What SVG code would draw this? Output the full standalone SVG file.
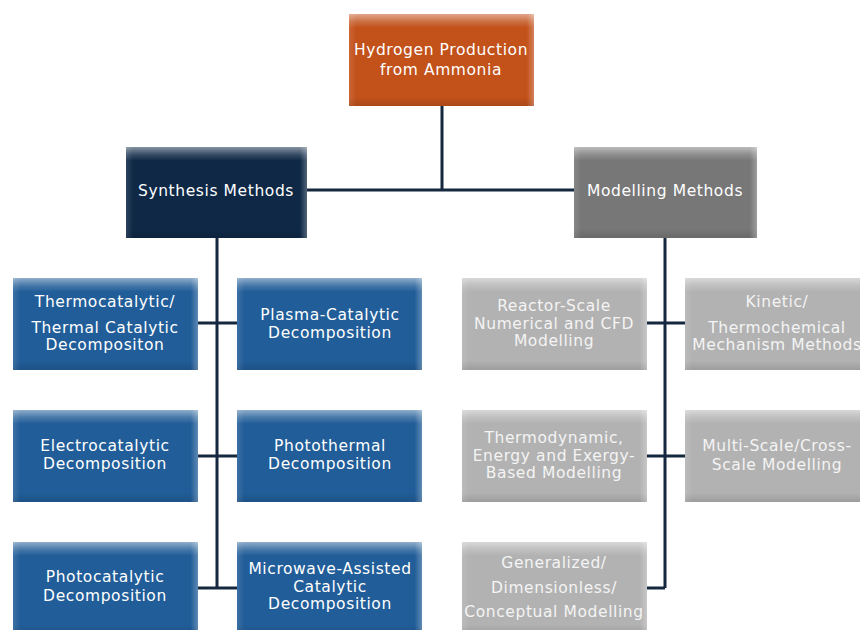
<svg xmlns="http://www.w3.org/2000/svg" width="860" height="630" viewBox="0 0 860 630">
<defs>
<linearGradient id="bev" x1="0" y1="0" x2="0" y2="1">
<stop offset="0" stop-color="#fff" stop-opacity="0.5"/>
<stop offset="0.08" stop-color="#fff" stop-opacity="0.18"/>
<stop offset="0.15" stop-color="#fff" stop-opacity="0"/>
<stop offset="0.9" stop-color="#000" stop-opacity="0"/>
<stop offset="1" stop-color="#000" stop-opacity="0.12"/>
</linearGradient>
<linearGradient id="bevx" x1="0" y1="0" x2="1" y2="0">
<stop offset="0" stop-color="#fff" stop-opacity="0.12"/>
<stop offset="0.04" stop-color="#fff" stop-opacity="0"/>
<stop offset="0.96" stop-color="#fff" stop-opacity="0"/>
<stop offset="1" stop-color="#fff" stop-opacity="0.28"/>
</linearGradient>
</defs>
<style>
text{font-family:"DejaVu Sans","Liberation Sans",sans-serif;font-size:15.5px;letter-spacing:0.6px;fill:#fff;text-anchor:middle;dominant-baseline:central}
.lt text{fill:#f4f4f4}
.bv{fill:url(#bev)}
.bx{fill:url(#bevx)}
.conn{stroke:#15283f;stroke-width:3;fill:none}
.or{fill:#c2511a}
.nv{fill:#0e2846}
.gy{fill:#777}
.bl{fill:#215d98}
.lg{fill:#b2b2b2}
</style>
<rect width="860" height="630" fill="#fff"/>
<g id="connectors">
<path class="conn" d="M442 106V190M307 190H574"/>
<path class="conn" d="M217 238V588M197 323H237M197 456H237M197 588H237"/>
<path class="conn" d="M665 238V588M647 323H685M647 456H685M647 588H665"/>
</g>
<g id="n-root"><rect class="or" x="349" y="14" width="185" height="92"/><rect class="bv" x="349" y="14" width="185" height="92"/><rect class="bx" x="349" y="14" width="185" height="92"/>
<text x="441" y="50">Hydrogen Production</text><text x="441" y="70">from Ammonia</text></g>
<g id="n-synth"><rect class="nv" x="126" y="147" width="181" height="91"/><rect class="bv" x="126" y="147" width="181" height="91"/><rect class="bx" x="126" y="147" width="181" height="91"/>
<text x="216" y="191">Synthesis Methods</text></g>
<g id="n-model"><rect class="gy" x="574" y="147" width="183" height="91"/><rect class="bv" x="574" y="147" width="183" height="91"/><rect class="bx" x="574" y="147" width="183" height="91"/>
<text x="665" y="191">Modelling Methods</text></g>

<g id="n-thermo"><rect class="bl" x="13" y="278" width="185" height="92"/><rect class="bv" x="13" y="278" width="185" height="92"/><rect class="bx" x="13" y="278" width="185" height="92"/>
<text x="105" y="302">Thermocatalytic/</text><text x="105" y="328">Thermal Catalytic</text><text x="105" y="345">Decompositon</text></g>
<g id="n-plasma"><rect class="bl" x="237" y="278" width="185" height="92"/><rect class="bv" x="237" y="278" width="185" height="92"/><rect class="bx" x="237" y="278" width="185" height="92"/>
<text x="330" y="315">Plasma-Catalytic</text><text x="330" y="333">Decomposition</text></g>
<g id="n-electro"><rect class="bl" x="13" y="410" width="185" height="92"/><rect class="bv" x="13" y="410" width="185" height="92"/><rect class="bx" x="13" y="410" width="185" height="92"/>
<text x="105" y="446">Electrocatalytic</text><text x="105" y="464">Decomposition</text></g>
<g id="n-photothermal"><rect class="bl" x="237" y="410" width="185" height="92"/><rect class="bv" x="237" y="410" width="185" height="92"/><rect class="bx" x="237" y="410" width="185" height="92"/>
<text x="330" y="446">Photothermal</text><text x="330" y="464">Decomposition</text></g>
<g id="n-photocat"><rect class="bl" x="13" y="542" width="185" height="92"/><rect class="bv" x="13" y="542" width="185" height="92"/><rect class="bx" x="13" y="542" width="185" height="92"/>
<text x="105" y="577">Photocatalytic</text><text x="105" y="596">Decomposition</text></g>
<g id="n-microwave"><rect class="bl" x="237" y="542" width="185" height="92"/><rect class="bv" x="237" y="542" width="185" height="92"/><rect class="bx" x="237" y="542" width="185" height="92"/>
<text x="330" y="569">Microwave-Assisted</text><text x="330" y="587">Catalytic</text><text x="330" y="604">Decomposition</text></g>

<g id="n-reactor" class="lt"><rect class="lg" x="462" y="278" width="185" height="92"/><rect class="bv" x="462" y="278" width="185" height="92"/><rect class="bx" x="462" y="278" width="185" height="92"/>
<text x="554" y="306">Reactor-Scale</text><text x="554" y="324">Numerical and CFD</text><text x="554" y="341">Modelling</text></g>
<g id="n-kinetic" class="lt"><rect class="lg" x="685" y="278" width="185" height="92"/><rect class="bv" x="685" y="278" width="185" height="92"/><rect class="bx" x="685" y="278" width="185" height="92"/>
<text x="777" y="302">Kinetic/</text><text x="777" y="328">Thermochemical</text><text x="777" y="345">Mechanism Methods</text></g>
<g id="n-thermodyn" class="lt"><rect class="lg" x="462" y="410" width="185" height="92"/><rect class="bv" x="462" y="410" width="185" height="92"/><rect class="bx" x="462" y="410" width="185" height="92"/>
<text x="554" y="438">Thermodynamic,</text><text x="554" y="456">Energy and Exergy-</text><text x="554" y="473">Based Modelling</text></g>
<g id="n-multiscale" class="lt"><rect class="lg" x="685" y="410" width="185" height="92"/><rect class="bv" x="685" y="410" width="185" height="92"/><rect class="bx" x="685" y="410" width="185" height="92"/>
<text x="777" y="446">Multi-Scale/Cross-</text><text x="777" y="465">Scale Modelling</text></g>
<g id="n-general" class="lt"><rect class="lg" x="462" y="542" width="185" height="92"/><rect class="bv" x="462" y="542" width="185" height="92"/><rect class="bx" x="462" y="542" width="185" height="92"/>
<text x="554" y="563">Generalized/</text><text x="554" y="588">Dimensionless/</text><text x="554" y="612">Conceptual Modelling</text></g>
</svg>
